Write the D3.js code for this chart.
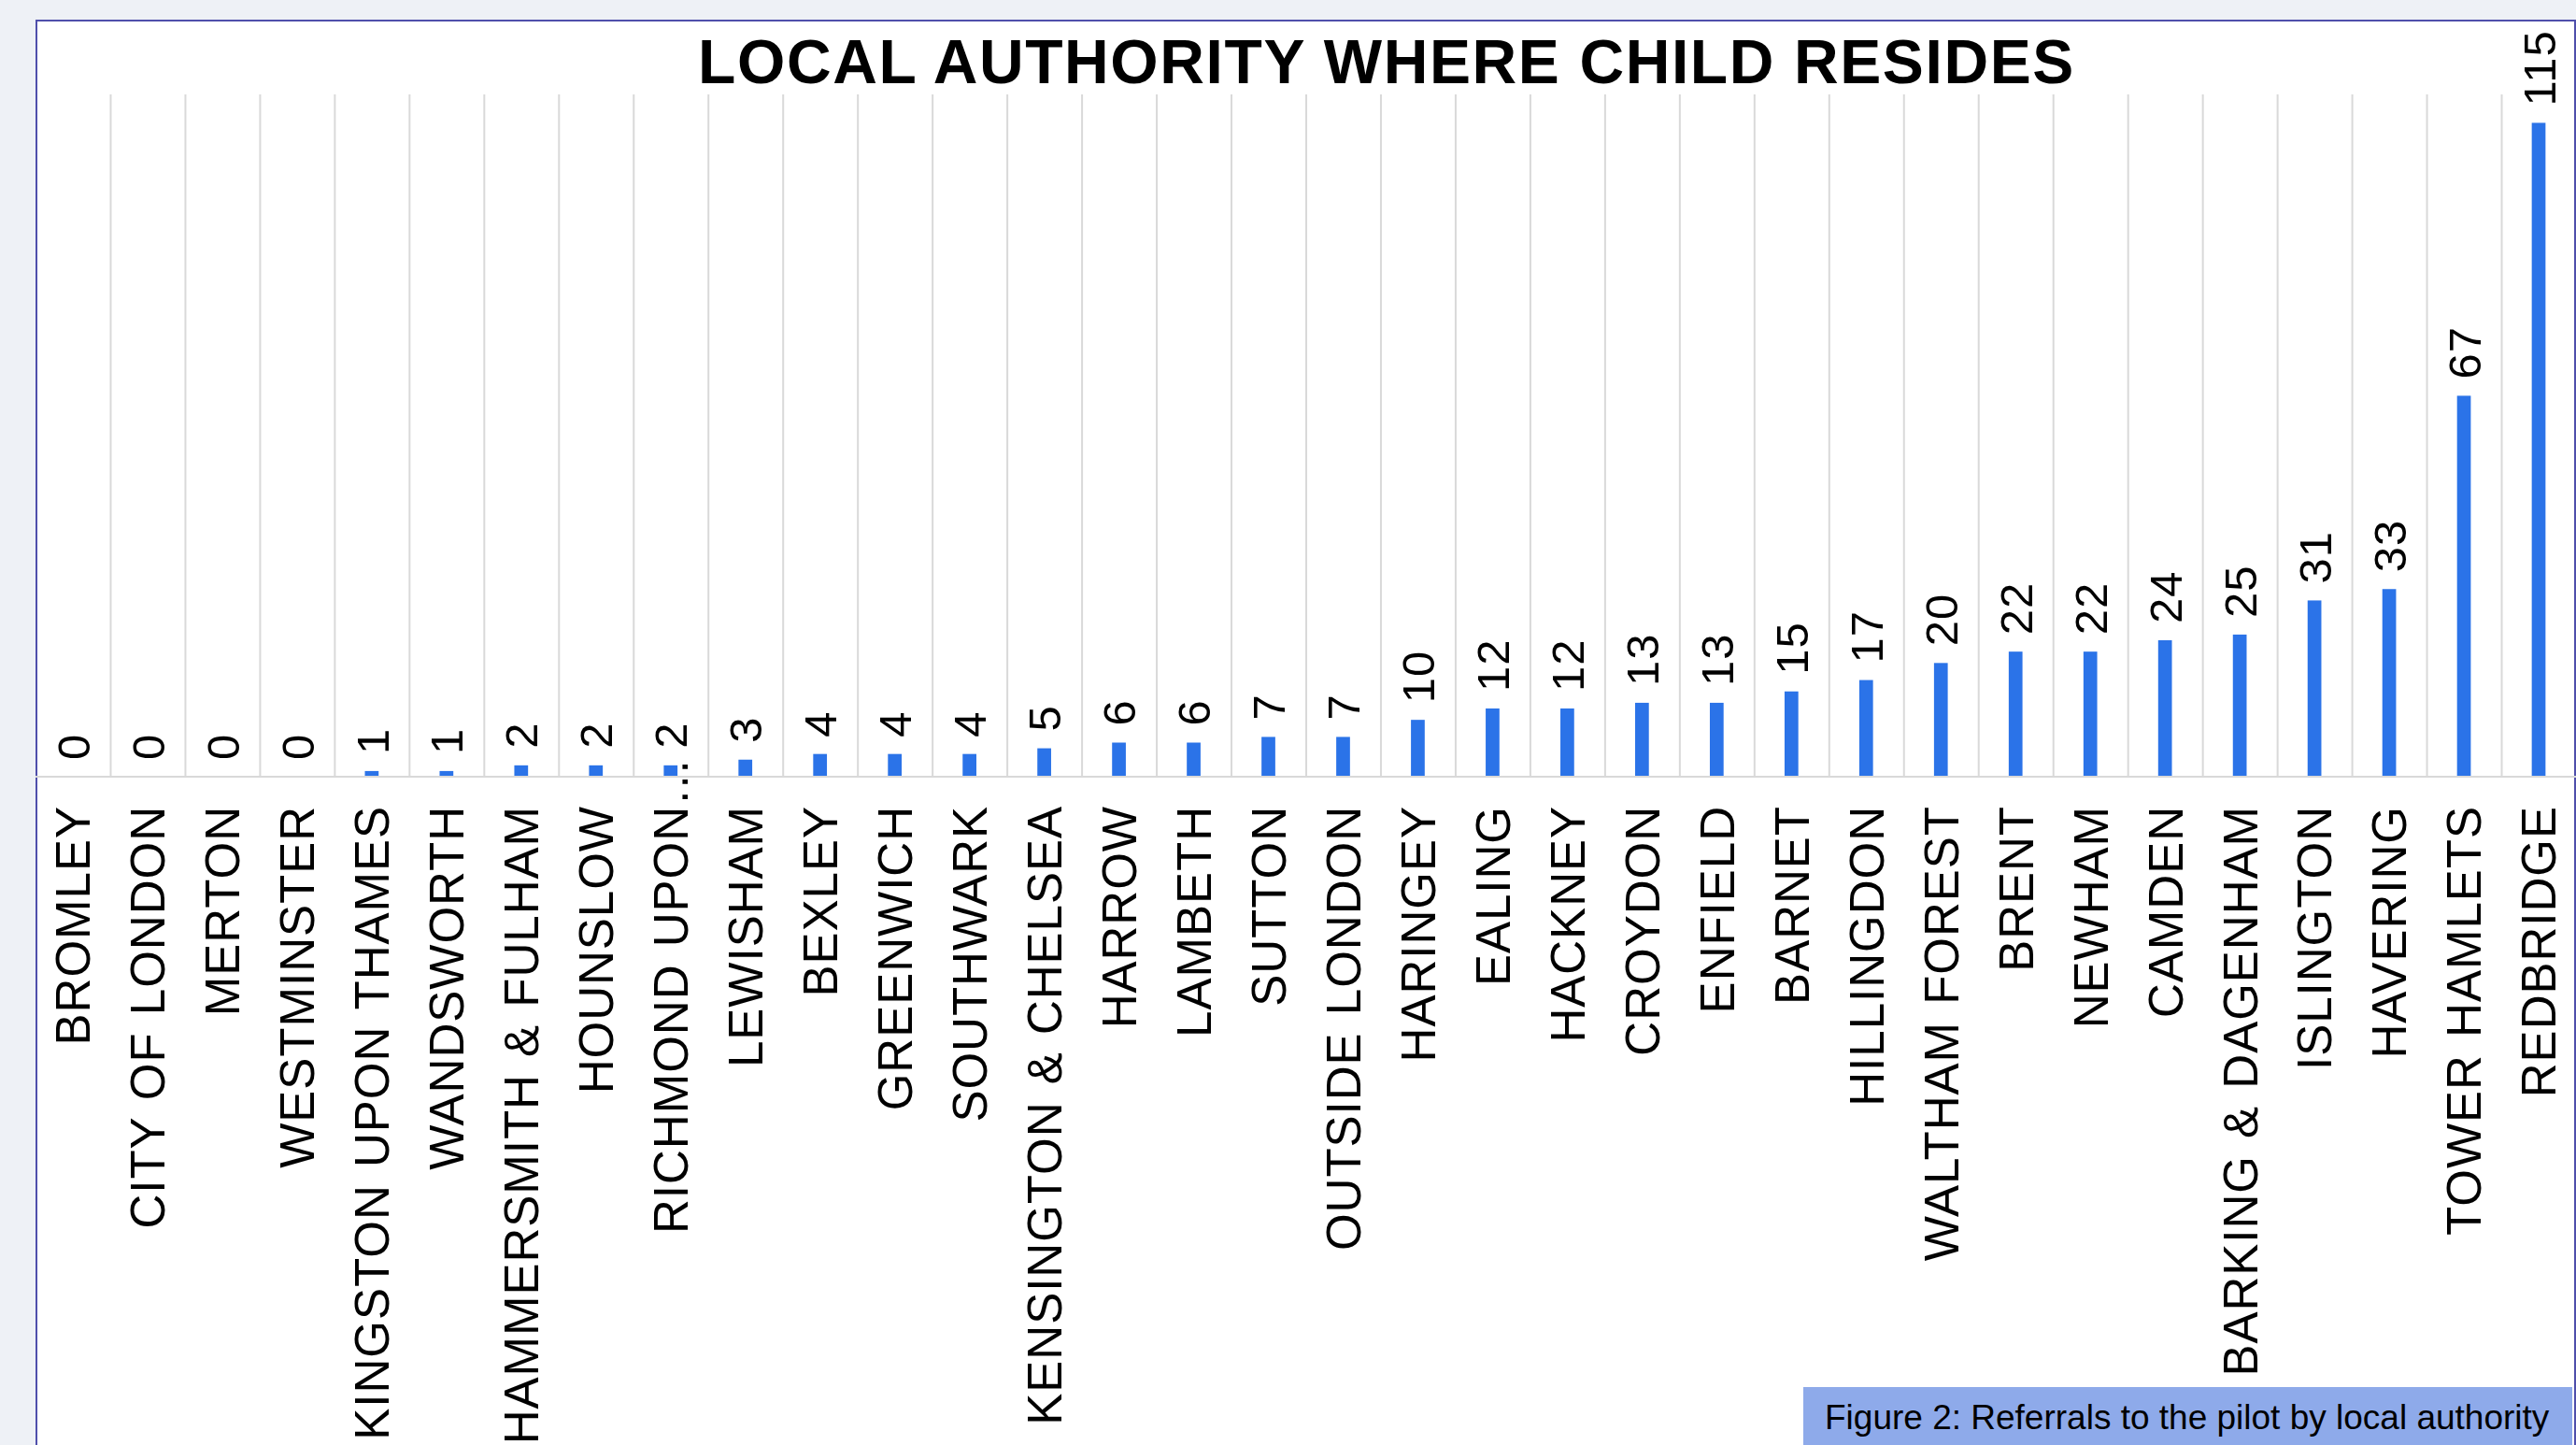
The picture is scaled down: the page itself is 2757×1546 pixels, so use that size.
<!DOCTYPE html>
<html>
<head>
<meta charset="utf-8">
<script src="https://cdn.jsdelivr.net/npm/d3@7"></script>
<style>
  html, body { margin: 0; padding: 0; background: #eef1f6; }
  svg { display: block; }
  text { font-family: "Liberation Sans", Arial, sans-serif; }
</style>
</head>
<body>
<svg id="chart" width="2757" height="1546"></svg>
<script>
const categories = [
  "BROMLEY", "CITY OF LONDON", "MERTON", "WESTMINSTER", "KINGSTON UPON THAMES",
  "WANDSWORTH", "HAMMERSMITH & FULHAM", "HOUNSLOW", "RICHMOND UPON…", "LEWISHAM",
  "BEXLEY", "GREENWICH", "SOUTHWARK", "KENSINGTON & CHELSEA", "HARROW",
  "LAMBETH", "SUTTON", "OUTSIDE LONDON", "HARINGEY", "EALING",
  "HACKNEY", "CROYDON", "ENFIELD", "BARNET", "HILLINGDON",
  "WALTHAM FOREST", "BRENT", "NEWHAM", "CAMDEN", "BARKING & DAGENHAM",
  "ISLINGTON", "HAVERING", "TOWER HAMLETS", "REDBRIDGE"
];
const values = [
  0, 0, 0, 0, 1,
  1, 2, 2, 2, 3,
  4, 4, 4, 5, 6,
  6, 7, 7, 10, 12,
  12, 13, 13, 15, 17,
  20, 22, 22, 24, 25,
  31, 33, 67, 115
];
const yDomain = [0, 120];
const title = "LOCAL AUTHORITY WHERE CHILD RESIDES";
const caption = "Figure 2: Referrals to the pilot by local authority";

const data = categories.map((c, i) => ({ cat: c, val: values[i] }));

const svg = d3.select("#chart");
const W = 2757, H = 1546;
const plot = { left: 38, right: 2757, top: 101, bottom: 831 };

// frame
svg.append("rect")
  .attr("x", 39).attr("y", 22)
  .attr("width", W - 40).attr("height", H + 20)
  .attr("fill", "#ffffff")
  .attr("stroke", "#4f4fab").attr("stroke-width", 2);

const x = d3.scaleBand()
  .domain(categories)
  .range([plot.left, plot.right])
  .paddingInner(0.816)
  .paddingOuter(0.408);

const xGrid = d3.scaleLinear()
  .domain([0, categories.length])
  .range([plot.left, plot.right]);

const y = d3.scaleLinear().domain(yDomain).range([plot.bottom, plot.top]);

// vertical gridlines between categories
const gridAxis = d3.axisBottom(xGrid)
  .tickValues(d3.range(1, categories.length))
  .tickSize(-(plot.bottom - plot.top))
  .tickFormat("");
const gg = svg.append("g")
  .attr("transform", `translate(0,${plot.bottom})`)
  .call(gridAxis);
gg.select(".domain").remove();
gg.selectAll(".tick line").attr("stroke", "#d9d9d9").attr("stroke-width", 2);

// bars
svg.append("g").selectAll("rect")
  .data(data)
  .join("rect")
  .attr("x", d => x(d.cat))
  .attr("width", x.bandwidth())
  .attr("y", d => y(d.val))
  .attr("height", d => y(0) - y(d.val))
  .attr("fill", "#2b73e8");

// baseline
svg.append("line")
  .attr("x1", plot.left).attr("x2", plot.right)
  .attr("y1", y(0)).attr("y2", y(0))
  .attr("stroke", "#d9d9d9").attr("stroke-width", 2);

// value labels
svg.append("g").selectAll("text")
  .data(data)
  .join("text")
  .attr("transform", d => `translate(${x(d.cat) + x.bandwidth() / 2},${y(d.val) - 18}) rotate(-90)`)
  .attr("dy", "0.36em")
  .attr("text-anchor", "start")
  .attr("font-size", 49)
  .attr("letter-spacing", "1px")
  .attr("fill", "#000")
  .text(d => String(d.val));

// category axis labels
const catAxis = d3.axisBottom(x).tickSize(0).tickPadding(0);
const ca = svg.append("g")
  .attr("transform", `translate(0,${plot.bottom})`)
  .call(catAxis);
ca.select(".domain").remove();
ca.selectAll(".tick text")
  .attr("transform", "rotate(-90)")
  .attr("x", -31).attr("y", 0).attr("dy", "0.36em")
  .attr("text-anchor", "end")
  .attr("font-size", 51)
  .attr("letter-spacing", "1px")
  .attr("word-spacing", "3px")
  .attr("font-family", "'Liberation Sans', Arial, sans-serif")
  .attr("fill", "#000")
  .each(function(d) {
    const t = d3.select(this);
    if (d.endsWith("…")) {
      t.text(d.slice(0, -1));
      d3.select(this.parentNode).append("text")
        .attr("transform", "rotate(-90)")
        .attr("x", -31).attr("y", 0).attr("dy", "0.36em")
        .attr("text-anchor", "start")
        .attr("font-size", 51)
        .attr("fill", "#000")
        .text("…");
    }
  });

// title
svg.append("text")
  .attr("x", 1484).attr("y", 89)
  .attr("text-anchor", "middle")
  .attr("font-size", 66)
  .attr("font-weight", "bold")
  .attr("letter-spacing", "1.6px")
  .attr("fill", "#000")
  .text(title);

// caption box
svg.append("rect")
  .attr("x", 1930).attr("y", 1484)
  .attr("width", 823).attr("height", 70)
  .attr("fill", "#8eaaea");
svg.append("text")
  .attr("x", 1953).attr("y", 1529)
  .attr("font-size", 37)
  .attr("fill", "#000")
  .text(caption);
</script>
</body>
</html>
